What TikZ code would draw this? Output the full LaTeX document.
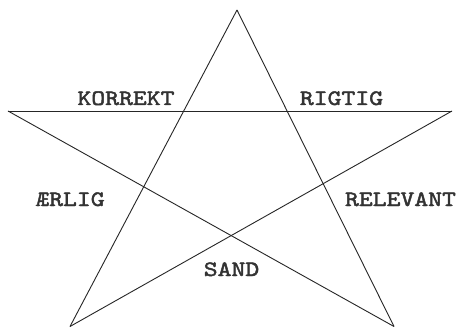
\documentclass[tikz,border=0pt]{standalone}
\usepackage{fontspec}
\newfontfamily\typew[FakeStretch=1.2,FakeBold=2]{lmmono10-regular.otf}
\begin{document}
\begin{tikzpicture}[x=1pt,y=1pt,
  edge/.style={draw=black!85,line width=0.9pt},
  lab/.style={font=\fontsize{22}{22}\selectfont\typew,text=black!80,inner sep=0pt,anchor=base}]
\useasboundingbox (0,0) rectangle (457,327);
\fill[white] (0,0) rectangle (457,327);
\coordinate (T) at (237,317);
\coordinate (L) at (8,216);
\coordinate (R) at (452,216);
\coordinate (BL) at (70,0.5);
\coordinate (BR) at (394,0.5);
\draw[edge] (T) -- (BL);
\draw[edge] (T) -- (BR);
\draw[edge] (L) -- (R);
\draw[edge] (L) -- (BR);
\draw[edge] (R) -- (BL);
\node[lab] (korrekt) at (126,222) {KORREKT};
\node[lab] (rigtig) at (341.5,222) {RIGTIG};
\node[lab] (aerlig) at (70,121) {ÆRLIG};
\node[lab] (relevant) at (400.5,121) {RELEVANT};
\node[lab] (sand) at (231.5,51) {SAND};
\end{tikzpicture}
\end{document}
